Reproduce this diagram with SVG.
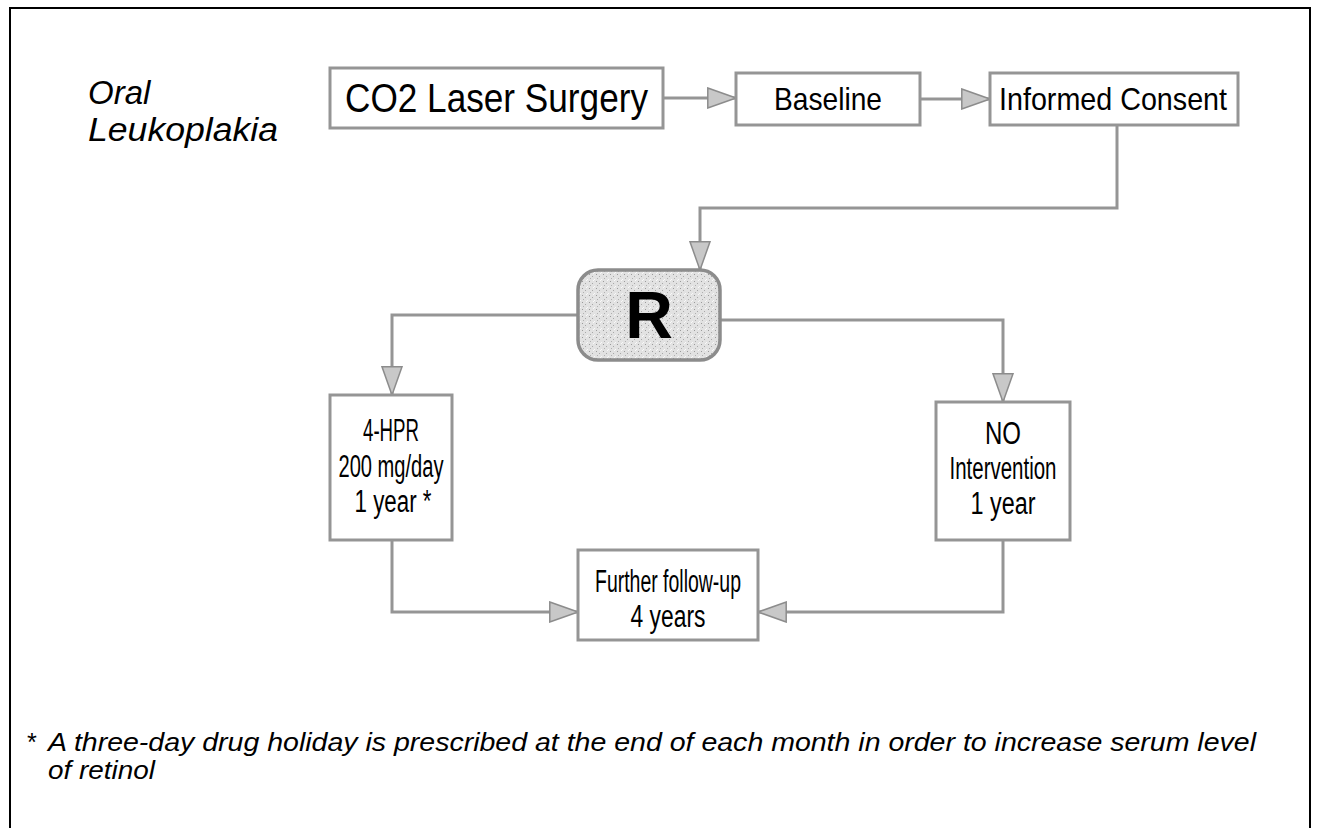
<svg xmlns="http://www.w3.org/2000/svg" width="1319" height="828" viewBox="0 0 1319 828">
<defs>
<style>
.box{fill:#ffffff;stroke:#959595;stroke-width:3}
.rbox{fill:url(#stipple);stroke:#8c8c8c;stroke-width:3.5}
.con{fill:none;stroke:#959595;stroke-width:3}
.t{font-family:"Liberation Sans",Arial,sans-serif;fill:#000;text-anchor:middle}
.it{font-family:"Liberation Sans",Arial,sans-serif;font-style:italic;fill:#000}
</style>
<pattern id="stipple" width="7" height="7" patternUnits="userSpaceOnUse">
<rect width="7" height="7" fill="#e2e2e2"/>
<rect x="1" y="1" width="1" height="1" fill="#9a9a9a"/>
<rect x="4" y="3" width="1" height="1" fill="#a8a8a8"/>
<rect x="2" y="5" width="1" height="1" fill="#b0b0b0"/>
<rect x="6" y="6" width="1" height="1" fill="#f8f8f8"/>
<rect x="5" y="0" width="1" height="1" fill="#f8f8f8"/>
</pattern>
<marker id="arr" viewBox="0 0 30 22" refX="29" refY="11" markerWidth="30" markerHeight="22" markerUnits="userSpaceOnUse" orient="auto">
<path d="M0.8,1 L29,11 L0.8,21 Z" fill="#c8c8c8" stroke="#8c8c8c" stroke-width="1.5"/>
</marker>
</defs>
<rect width="1319" height="828" fill="#ffffff"/>
<path d="M10,828 L10,8 L1310,8 L1310,828" fill="none" stroke="#000" stroke-width="2"/>

<g id="title">
<text class="it" x="88" y="104" font-size="33">Oral</text>
<text class="it" x="88" y="141" font-size="33" textLength="190" lengthAdjust="spacingAndGlyphs">Leukoplakia</text>
</g>

<g id="connectors">
<path class="con" d="M663,98 L736,98" marker-end="url(#arr)"/>
<path class="con" d="M920,99 L990,99" marker-end="url(#arr)"/>
<path class="con" d="M1117,125 L1117,208 L700,208 L700,270" marker-end="url(#arr)"/>
<path class="con" d="M578,315 L392,315 L392,395" marker-end="url(#arr)"/>
<path class="con" d="M720,320 L1003,320 L1003,402" marker-end="url(#arr)"/>
<path class="con" d="M392,540 L392,612 L578,612" marker-end="url(#arr)"/>
<path class="con" d="M1003,540 L1003,612 L758,612" marker-end="url(#arr)"/>
</g>

<g id="co2">
<rect class="box" x="330" y="68" width="333" height="60"/>
<text class="t" x="496.5" y="112" font-size="40" textLength="303" lengthAdjust="spacingAndGlyphs">CO2 Laser Surgery</text>
</g>
<g id="baseline">
<rect class="box" x="736" y="73" width="184" height="52"/>
<text class="t" x="828" y="110" font-size="32" textLength="108" lengthAdjust="spacingAndGlyphs">Baseline</text>
</g>
<g id="consent">
<rect class="box" x="990" y="73" width="248" height="52"/>
<text class="t" x="1113" y="110" font-size="32" textLength="228" lengthAdjust="spacingAndGlyphs">Informed Consent</text>
</g>
<g id="random">
<rect class="rbox" x="578" y="270" width="142" height="90" rx="20" ry="20"/>
<text class="t" x="649" y="338" font-size="66" font-weight="bold">R</text>
</g>
<g id="hpr">
<rect class="box" x="330" y="395" width="122" height="145"/>
<text class="t" x="391" y="441" font-size="31" textLength="56" lengthAdjust="spacingAndGlyphs">4-HPR</text>
<text class="t" x="391" y="477" font-size="31" textLength="105" lengthAdjust="spacingAndGlyphs">200 mg/day</text>
<text class="t" x="393" y="512" font-size="31" textLength="77" lengthAdjust="spacingAndGlyphs">1 year *</text>
</g>
<g id="nointervention">
<rect class="box" x="936" y="402" width="134" height="138"/>
<text class="t" x="1003" y="444" font-size="31" textLength="36" lengthAdjust="spacingAndGlyphs">NO</text>
<text class="t" x="1003" y="479" font-size="31" textLength="107" lengthAdjust="spacingAndGlyphs">Intervention</text>
<text class="t" x="1003" y="514" font-size="31" textLength="65" lengthAdjust="spacingAndGlyphs">1 year</text>
</g>
<g id="followup">
<rect class="box" x="578" y="550" width="180" height="90"/>
<text class="t" x="668" y="592" font-size="31" textLength="146" lengthAdjust="spacingAndGlyphs">Further follow-up</text>
<text class="t" x="668" y="627" font-size="31" textLength="75" lengthAdjust="spacingAndGlyphs">4 years</text>
</g>

<g id="footnote">
<text class="it" x="26" y="751" font-size="25">*</text>
<text class="it" x="48" y="751" font-size="25" textLength="1208" lengthAdjust="spacingAndGlyphs">A three-day drug holiday is prescribed at the end of each month in order to increase serum level</text>
<text class="it" x="48" y="779" font-size="25" textLength="107" lengthAdjust="spacingAndGlyphs">of retinol</text>
</g>
</svg>
